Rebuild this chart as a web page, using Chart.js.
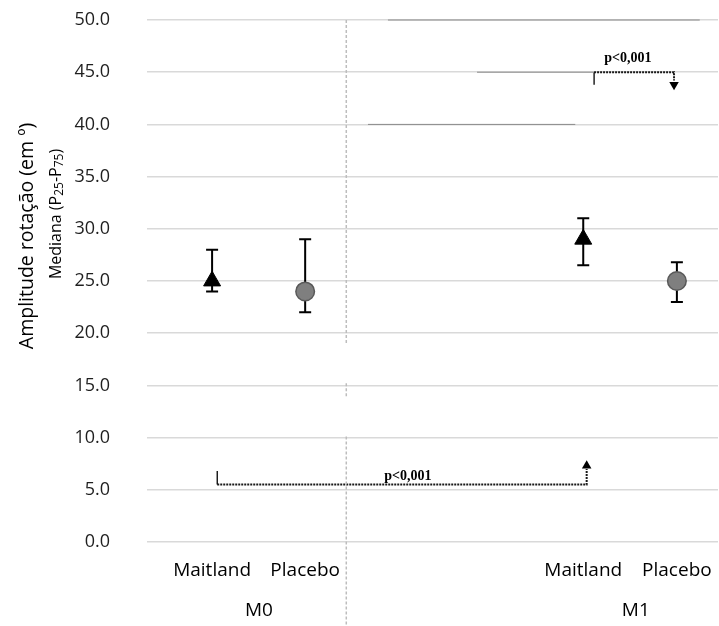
<!DOCTYPE html>
<html lang="pt">
<head>
    <meta charset="UTF-8">
    <title>Amplitude rotação - Maitland vs Placebo</title>
    <script src="https://cdn.jsdelivr.net/npm/chart.js"></script>
    <style>
        html, body { margin: 0; padding: 0; background: #ffffff; overflow: hidden; }
        .chart-container { position: relative; width: 719px; height: 626px; }
    </style>
</head>
<body>
<div class="chart-container">
    <canvas id="rangeChart"></canvas>
</div>
<script>
    // positions on a hidden 0-10 horizontal axis
    const treatments = ['Maitland', 'Placebo', 'Maitland', 'Placebo'];
    const treatmentX = [1.14, 2.77, 7.64, 9.28];
    const groups = ['M0', 'M1'];
    const groupX = [1.96, 8.56];

    // mediana (P25 - P75), M0 then M1
    const maitlandX = [1.14, 7.64];
    const maitlandMedian = [25, 29];
    const maitlandP25 = [24, 26.5];
    const maitlandP75 = [28, 31];

    const placeboX = [2.77, 9.28];
    const placeboMedian = [24, 25];
    const placeboP25 = [22, 23];
    const placeboP75 = [29, 26.8];

    const yMin = 0, yMax = 50, yStep = 5;

    // significance brackets
    const bracketTicks = [
        [{x: 1.23, y: 6.8}, {x: 1.23, y: 5.5}],
        [{x: 7.83, y: 43.8}, {x: 7.83, y: 45}]
    ];
    const bracketDotted = [
        [{x: 1.23, y: 5.5}, {x: 7.7, y: 5.5}, {x: 7.7, y: 7.0}],
        [{x: 7.83, y: 45}, {x: 9.23, y: 45}, {x: 9.23, y: 44.2}]
    ];
    const arrowUp = [{x: 7.7, y: 7.3}];
    const arrowDown = [{x: 9.23, y: 43.8}];
    const pLabels = ['p<0,001', 'p<0,001'];
    const pLabelPos = [{x: 4.57, y: 6.3}, {x: 8.42, y: 46.3}];

    // darker stretches over some gridlines in the M1 half
    const darkLines = [
        {x: 4.22, y: 50}, {x: 9.68, y: 50}, {x: 5, y: null},
        {x: 5.78, y: 45}, {x: 7.83, y: 45}, {x: 5, y: null},
        {x: 3.87, y: 40}, {x: 7.5, y: 40}
    ];

    // dashed separator between M0 and M1 (with its gaps)
    const separatorX = 3.49;
    const separatorY = [[50, 18.9], [15.2, 13.9], [10.1, -8]];

    const yTitle = 'Amplitude rotação (em º)';
    const ySubTitle = [['Mediana (P', false], ['25', true], ['-P', false], ['75', true], [')', false]];

    const errorBars = {
        id: 'errorBars',
        beforeDatasetsDraw(chart) {
            const {ctx, scales: {x, y}} = chart;
            ctx.save();
            ctx.strokeStyle = '#000000';
            ctx.lineWidth = 2;
            const draw = (xs, lo, hi) => xs.forEach((v, i) => {
                const px = x.getPixelForValue(v);
                const top = y.getPixelForValue(hi[i]);
                const bot = y.getPixelForValue(lo[i]);
                ctx.beginPath();
                ctx.moveTo(px, top); ctx.lineTo(px, bot);
                ctx.moveTo(px - 6, top); ctx.lineTo(px + 6, top);
                ctx.moveTo(px - 6, bot); ctx.lineTo(px + 6, bot);
                ctx.stroke();
            });
            draw(maitlandX, maitlandP25, maitlandP75);
            draw(placeboX, placeboP25, placeboP75);
            ctx.restore();
        }
    };

    const textLayer = {
        id: 'textLayer',
        afterDraw(chart) {
            const {ctx, chartArea, scales: {x, y}} = chart;
            ctx.save();
            ctx.fillStyle = '#000000';
            ctx.textAlign = 'center';
            ctx.textBaseline = 'middle';
            ctx.font = 'bold 14px "Liberation Serif"';
            pLabels.forEach((t, i) => {
                ctx.fillText(t, x.getPixelForValue(pLabelPos[i].x), y.getPixelForValue(pLabelPos[i].y));
            });

            // rotated axis titles
            ctx.save();
            ctx.translate(27, chartArea.top + 216);
            ctx.rotate(-Math.PI / 2);
            ctx.font = '19.5px "Open Sans"';
            ctx.fillText(yTitle, 0, 0);
            ctx.restore();

            ctx.save();
            ctx.translate(56, chartArea.top + 194);
            ctx.rotate(-Math.PI / 2);
            ctx.textAlign = 'left';
            const big = '16px "Open Sans"', small = '12px "Open Sans"';
            let total = 0;
            ySubTitle.forEach(([t, sub]) => { ctx.font = sub ? small : big; total += ctx.measureText(t).width; });
            let cx = -total / 2;
            ySubTitle.forEach(([t, sub]) => {
                ctx.font = sub ? small : big;
                ctx.fillText(t, cx, sub ? 4 : 0);
                cx += ctx.measureText(t).width;
            });
            ctx.restore();
            ctx.restore();
        }
    };

    const separatorData = [];
    separatorY.forEach(([a, b]) => {
        separatorData.push({x: separatorX, y: a}, {x: separatorX, y: b}, {x: separatorX, y: null});
    });

    const lineSet = (data, color, width, dash) => ({
        type: 'line', data, borderColor: color, borderWidth: width, borderDash: dash || [],
        pointRadius: 0, fill: false, spanGaps: false, clip: false, showLine: true
    });

    const noSidePadding = (s, h) => { s.height = h; s.paddingLeft = 0; s.paddingRight = 0; };

    new Chart(document.getElementById('rangeChart'), {
        type: 'scatter',
        data: {
            datasets: [
                lineSet(separatorData, '#bdbdbd', 1.5, [3, 2]),
                lineSet(darkLines, '#8a8a8a', 1),
                lineSet(bracketTicks[0], '#000000', 1.3),
                lineSet(bracketTicks[1], '#000000', 1.3),
                lineSet(bracketDotted[0], '#1a1a1a', 2, [2, 1]),
                lineSet(bracketDotted[1], '#1a1a1a', 2, [2, 1]),
                {
                    data: arrowUp, pointStyle: 'triangle', pointRadius: 5.5,
                    backgroundColor: '#000000', borderColor: '#000000', borderWidth: 0
                },
                {
                    data: arrowDown, pointStyle: 'triangle', rotation: 180, pointRadius: 5.5,
                    backgroundColor: '#000000', borderColor: '#000000', borderWidth: 0
                },
                {
                    label: 'Maitland',
                    data: maitlandX.map((v, i) => ({x: v, y: maitlandMedian[i]})),
                    pointStyle: 'triangle', pointRadius: 9.8,
                    backgroundColor: '#000000', borderColor: '#000000', borderWidth: 1
                },
                {
                    label: 'Placebo',
                    data: placeboX.map((v, i) => ({x: v, y: placeboMedian[i]})),
                    pointStyle: 'circle', pointRadius: 9.3,
                    backgroundColor: '#7f7f7f', borderColor: '#595959', borderWidth: 1.5
                }
            ]
        },
        options: {
            responsive: true,
            maintainAspectRatio: false,
            animation: false,
            layout: { autoPadding: false, padding: { top: 20, right: 1, bottom: 0, left: 0 } },
            plugins: { legend: { display: false }, tooltip: { enabled: false } },
            scales: {
                x: {
                    type: 'linear', position: 'bottom', min: 0, max: 10, weight: 1,
                    grid: { display: false, drawTicks: true, tickLength: 17 },
                    border: { display: false },
                    afterBuildTicks: (s) => { s.ticks = treatmentX.map(v => ({value: v})); },
                    afterFit: (s) => noSidePadding(s, 40),
                    ticks: {
                        padding: 0, maxRotation: 0, autoSkip: false,
                        color: '#000000', font: { family: 'Open Sans', size: 19 },
                        callback: (v, i) => treatments[i]
                    }
                },
                x2: {
                    type: 'linear', axis: 'x', position: 'bottom', min: 0, max: 10, weight: 2,
                    grid: { display: false, drawTicks: true, tickLength: 17 },
                    border: { display: false },
                    afterBuildTicks: (s) => { s.ticks = groupX.map(v => ({value: v})); },
                    afterFit: (s) => noSidePadding(s, 44),
                    ticks: {
                        padding: 0, maxRotation: 0, autoSkip: false,
                        color: '#000000', font: { family: 'Open Sans', size: 19 },
                        callback: (v, i) => groups[i]
                    }
                },
                y: {
                    min: yMin, max: yMax,
                    grid: { color: '#d9d9d9', lineWidth: 1.5, drawTicks: true, tickLength: 37, tickColor: 'rgba(0,0,0,0)' },
                    border: { display: false },
                    afterFit: (s) => { s.width = 147; },
                    ticks: {
                        stepSize: yStep, padding: 0,
                        color: '#1f1f1f', font: { family: 'Open Sans', size: 18 },
                        callback: (v) => v.toFixed(1)
                    }
                }
            }
        },
        plugins: [errorBars, textLayer]
    });
</script>
</body>
</html>
